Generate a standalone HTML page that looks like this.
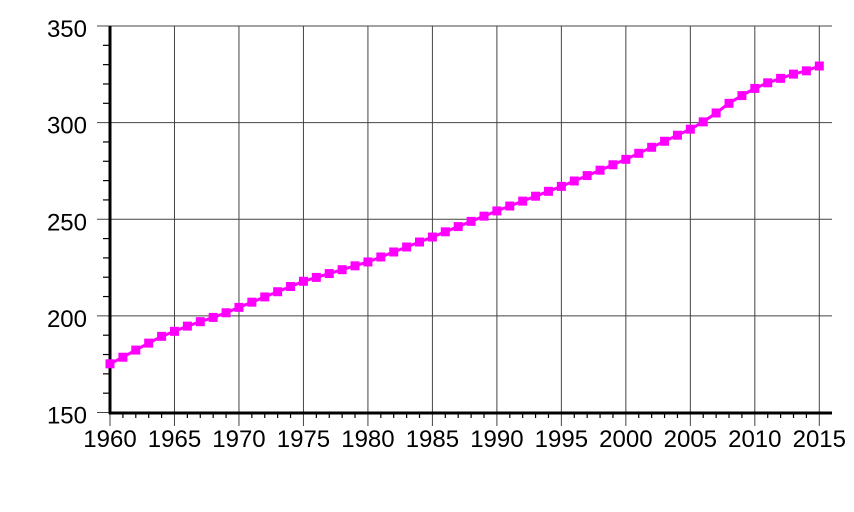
<!DOCTYPE html>
<html><head><meta charset="utf-8"><style>
html,body{margin:0;padding:0;background:#fff;width:854px;height:512px;overflow:hidden}
</style></head><body>
<svg id="s" width="854" height="512" viewBox="0 0 854 512" xmlns="http://www.w3.org/2000/svg">
<rect width="854" height="512" fill="#fff"/>
<g id="g"></g>
</svg>
<script>
var X0=110,X1=819.3,Y350=26,Y150=412.5;
function x(yr){return X0+(yr-1960)*(X1-X0)/55;}
function y(v){return Y150-(v-150)*(Y150-Y350)/200;}
var a={1960:175.2,1961:178.6,1962:182.3,1963:185.9,1964:189.4,1965:192,1966:194.7,1967:197,1968:199.2,1969:201.6,1970:204.4,1975:217.9,1980:227.9,1985:240.8,1990:254.3,1995:267,2000:281,2005:296.6,2006:300.4,2007:305,2008:310,2009:314,2010:317.7,2011:320.6,2012:322.9,2013:325.1,2014:326.8,2015:329.3};
var keys=Object.keys(a).map(Number).sort(function(p,q){return p-q});
function val(yr){if(a[yr]!==undefined)return a[yr];for(var i=0;i<keys.length-1;i++){if(yr>keys[i]&&yr<keys[i+1]){var t=(yr-keys[i])/(keys[i+1]-keys[i]);return a[keys[i]]+t*(a[keys[i+1]]-a[keys[i]]);}}}
var F=' font-family="Liberation Sans, sans-serif" font-size="24" fill="#000"';
var h='';
for(var v=150;v<=350;v+=50){h+='<line x1="97" x2="832" y1="'+y(v)+'" y2="'+y(v)+'" stroke="#444" stroke-width="1"/>';
h+='<text'+F+' x="87" y="'+(y(v)+11)+'" text-anchor="end">'+v+'</text>';}
for(var v=160;v<350;v+=10){if(v%50)h+='<line x1="103" x2="110" y1="'+y(v)+'" y2="'+y(v)+'" stroke="#000" stroke-width="1.2"/>';}
for(var yr=1960;yr<=2015;yr++){var xx=x(yr);
 if(yr%5==0){h+='<line x1="'+xx+'" x2="'+xx+'" y1="26" y2="426" stroke="#444" stroke-width="1"/>';
 h+='<text'+F+' x="'+xx+'" y="447" text-anchor="middle">'+yr+'</text>';}
 else h+='<line x1="'+xx+'" x2="'+xx+'" y1="412" y2="418" stroke="#000" stroke-width="1.2"/>';}
h+='<line x1="110" x2="110" y1="26" y2="414" stroke="#000" stroke-width="3"/>';
h+='<line x1="109" x2="832" y1="413" y2="413" stroke="#000" stroke-width="3"/>';
var pts=[],m='';
for(var yr=1960;yr<=2015;yr++){var px=x(yr),py=y(val(yr));pts.push(px.toFixed(1)+','+py.toFixed(1));
 m+='<rect x="'+(px-4.5)+'" y="'+(py-4.5)+'" width="9" height="9" fill="#ff00ff"/>';}
h+='<polyline points="'+pts.join(' ')+'" fill="none" stroke="#ff00ff" stroke-width="3"/>'+m;
document.getElementById('g').innerHTML=h;
</script>
</body></html>
